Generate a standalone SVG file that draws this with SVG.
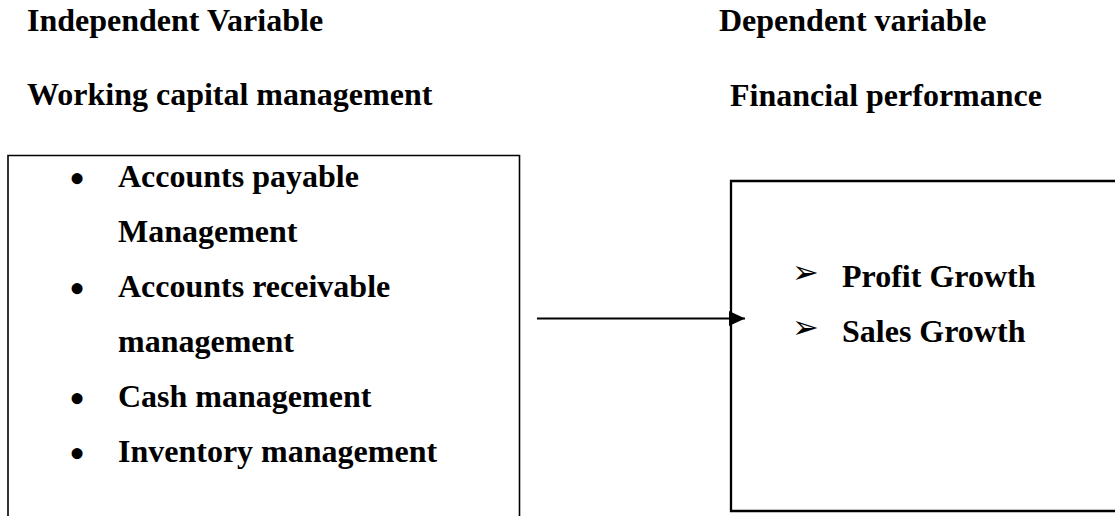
<svg xmlns="http://www.w3.org/2000/svg" width="1115" height="516" viewBox="0 0 1115 516">
<style>
.t{font-family:"Liberation Serif","Times New Roman",serif;font-weight:bold;font-size:32px;fill:#000}
.b{font-family:"Liberation Serif","Times New Roman",serif;font-size:46px;fill:#000}
.arr{font-family:"DejaVu Sans",sans-serif;font-size:32px;fill:#000}
</style>
<defs>
<marker id="ah" markerWidth="16" markerHeight="15" refX="16" refY="7.5" orient="auto" markerUnits="userSpaceOnUse">
<path d="M0,0 L16,7.5 L0,15 Z" fill="#000"/>
</marker>
</defs>
<rect width="1115" height="516" fill="#fff"/>
<g id="titles">
<text class="t" x="27" y="31">Independent Variable</text>
<text class="t" x="27" y="105">Working capital management</text>
<text class="t" x="719" y="31">Dependent variable</text>
<text class="t" x="730" y="106">Financial performance</text>
</g>
<g id="independent">
<path d="M8,520 V155.5 H519.5 V520" fill="none" stroke="#000" stroke-width="1.6"/>
<text class="b" x="69" y="194">•</text><text class="t" x="118" y="187">Accounts payable</text>
<text class="t" x="118" y="242">Management</text>
<text class="b" x="69" y="304">•</text><text class="t" x="118" y="297">Accounts receivable</text>
<text class="t" x="118" y="352">management</text>
<text class="b" x="69" y="414">•</text><text class="t" x="118" y="407">Cash management</text>
<text class="b" x="69" y="469">•</text><text class="t" x="118" y="462">Inventory management</text>
</g>
<g id="dependent">
<path d="M1120,181 H731 V511 H1120" fill="none" stroke="#000" stroke-width="2.3"/>
<text class="arr" x="792" y="283">➢</text><text class="t" x="842" y="287">Profit Growth</text>
<text class="arr" x="792" y="338">➢</text><text class="t" x="842" y="342">Sales Growth</text>
</g>
<g id="connectors">
<line x1="537" y1="318.5" x2="745" y2="318.5" stroke="#000" stroke-width="2" marker-end="url(#ah)"/>
</g>
</svg>
